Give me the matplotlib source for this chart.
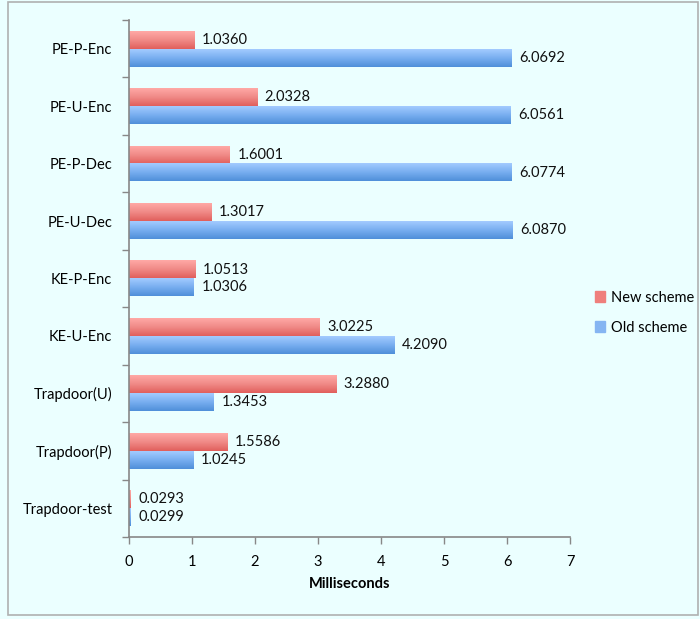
import numpy as np
import matplotlib
matplotlib.use("Agg")
import matplotlib.pyplot as plt
from matplotlib.colors import LinearSegmentedColormap
from matplotlib.patches import Rectangle

# top-to-bottom order as shown in the chart
categories = ["PE-P-Enc", "PE-U-Enc", "PE-P-Dec", "PE-U-Dec", "KE-P-Enc",
              "KE-U-Enc", "Trapdoor(U)", "Trapdoor(P)", "Trapdoor-test"]
new_scheme = [1.0360, 2.0328, 1.6001, 1.3017, 1.0513, 3.0225, 3.2880, 1.5586, 0.0293]
old_scheme = [6.0692, 6.0561, 6.0774, 6.0870, 1.0306, 4.2090, 1.3453, 1.0245, 0.0299]
x_ticks = [0, 1, 2, 3, 4, 5, 6, 7]

plt.rcParams["font.family"] = ["Lato", "DejaVu Sans"]

BG = "#ebffff"
red_cmap = LinearSegmentedColormap.from_list("r", ["#e15f5c", "#f08a87", "#ffa9a6"])
blue_cmap = LinearSegmentedColormap.from_list("b", ["#4f8fd9", "#78aef0", "#a3cbff"])

fig = plt.figure(figsize=(7, 6.19), dpi=100, facecolor=BG)
ax = fig.add_axes([0.1843, 0.1325, 0.63, 0.8352], facecolor=BG)

n = len(categories)
ys = np.arange(n)[::-1]
h = 0.31
grad = np.linspace(0, 1, 64).reshape(-1, 1)


def grad_bar(y0, width, cmap):
    # vertical gradient: darker at the bottom edge, lighter at the top
    ax.imshow(grad, extent=[0, width, y0, y0 + h], origin="lower", aspect="auto",
              cmap=cmap, interpolation="bilinear", zorder=2)


for y, nv, ov in zip(ys, new_scheme, old_scheme):
    grad_bar(y, nv, red_cmap)
    grad_bar(y - h, ov, blue_cmap)
    ax.text(nv + 0.12, y + h / 2, f"{nv:.4f}", va="center", ha="left", fontsize=10.5, color="#111111")
    ax.text(ov + 0.12, y - h / 2, f"{ov:.4f}", va="center", ha="left", fontsize=10.5, color="#111111")

ax.set_xlim(0, 7)
ax.set_ylim(-0.5, n - 0.5)
ax.set_xticks(x_ticks)
ax.set_xticklabels([str(t) for t in x_ticks], fontsize=10.5)
ax.set_yticks(ys)
ax.set_yticklabels(categories, fontsize=10.5)
ax.set_yticks(np.arange(n + 1) - 0.5, minor=True)
ax.tick_params(axis="y", which="major", length=0, pad=12)
ax.tick_params(axis="y", which="minor", length=5, color="#888888", width=1)
ax.tick_params(axis="x", length=5, color="#888888", width=1, pad=8)
ax.set_xlabel("Milliseconds", fontsize=10.5, fontweight="bold", labelpad=6)

for side in ["top", "right"]:
    ax.spines[side].set_visible(False)
for side in ["left", "bottom"]:
    ax.spines[side].set_color("#888888")
    ax.spines[side].set_linewidth(1.2)

handles = [Rectangle((0, 0), 1, 1, color="#ef7f7c"), Rectangle((0, 0), 1, 1, color="#85b5f2")]
fig.legend(handles, ["New scheme", "Old scheme"], loc="center left",
           bbox_to_anchor=(0.842, 0.495), frameon=False, fontsize=10.5,
           handlelength=0.7, handleheight=0.7, handletextpad=0.4, labelspacing=1.1,
           borderaxespad=0.0)

fig.patches.append(Rectangle((0.012, 0.006), 0.985, 0.99, transform=fig.transFigure,
                             fill=False, edgecolor="#b0b0b0", linewidth=1.2))

fig.savefig("out.png", dpi=100, facecolor=BG)
